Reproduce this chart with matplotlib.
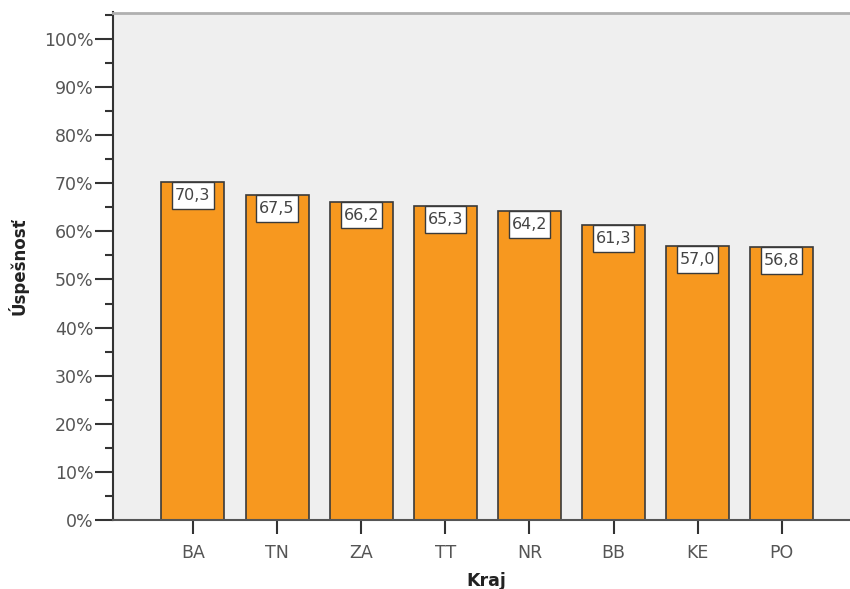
import matplotlib
matplotlib.use("Agg")
import matplotlib.pyplot as plt
from matplotlib.patches import Rectangle
from matplotlib.ticker import MultipleLocator, FuncFormatter

# data
kraje = ["BA", "TN", "ZA", "TT", "NR", "BB", "KE", "PO"]
uspesnost = [70.3, 67.5, 66.2, 65.3, 64.2, 61.3, 57.0, 56.8]

bar_col = "#f7981f"
edge_col = "#3a3a3a"
txt_col = "#555555"

plt.rcParams["font.family"] = "DejaVu Sans"

fig = plt.figure(figsize=(8.5, 5.89), dpi=100)
ax = fig.add_axes([113 / 850, 69 / 589, 737 / 850, 507.5 / 589])
ax.set_facecolor("#efefef")

x = list(range(len(kraje)))
ax.bar(x, uspesnost, width=0.75, color=bar_col, edgecolor=edge_col, linewidth=1.2, zorder=2)

# value boxes at the top of each bar
bw, bh = 0.49, 5.6
for i, v in zip(x, uspesnost):
    ax.add_patch(Rectangle((i - bw / 2, v - bh), bw, bh, facecolor="white",
                           edgecolor=edge_col, linewidth=1.0, zorder=3))
    ax.text(i, v - bh / 2, f"{v:.1f}".replace(".", ","), ha="center", va="center",
            fontsize=11.5, color="#444444", zorder=4)

ax.set_xlim(-0.95, 7.81)
ax.set_ylim(0, 105.5)

ax.yaxis.set_major_locator(MultipleLocator(10))
ax.yaxis.set_minor_locator(MultipleLocator(5))
ax.yaxis.set_major_formatter(FuncFormatter(lambda v, p: f"{v:.0f}%"))
ax.set_xticks(x)
ax.set_xticklabels(kraje)

ax.tick_params(axis="y", which="major", length=13, width=1.5, color="#333333",
               labelsize=12.5, labelcolor=txt_col, pad=1)
ax.tick_params(axis="y", which="minor", length=6, width=1.5, color="#333333")
ax.tick_params(axis="x", length=10, width=1.5, color="#333333",
               labelsize=12.5, labelcolor=txt_col, pad=7)

ax.spines["right"].set_visible(False)
ax.spines["top"].set_color("#b0b0b0")
ax.spines["top"].set_linewidth(2)
ax.spines["left"].set_color("#333333")
ax.spines["left"].set_linewidth(1.5)
ax.spines["bottom"].set_color("#555555")
ax.spines["bottom"].set_linewidth(1.5)

ax.set_ylabel("Úspešnosť", fontsize=12, fontweight="bold", color="#222222")
ax.yaxis.set_label_coords(-0.114, 0.5)
ax.set_xlabel("Kraj", fontsize=12.5, fontweight="bold", color="#222222")
ax.xaxis.set_label_coords(0.507, -0.102)

fig.savefig("out.png", dpi=100)
